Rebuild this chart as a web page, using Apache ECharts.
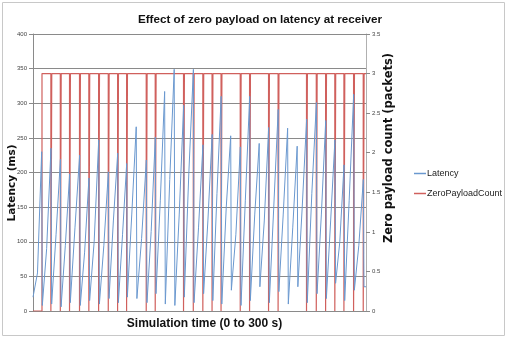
<!DOCTYPE html>
<html>
<head>
<meta charset="utf-8">
<script src="https://cdn.jsdelivr.net/npm/echarts@6/dist/echarts.min.js"></script>
<style>
  html, body { margin: 0; padding: 0; background: #fff; }
  #chart { width: 507px; height: 338px; }
</style>
</head>
<body>
<div id="chart"></div>
<script>
// times (s) where latency falls back to near zero
const dropTimes = [8.1, 16.5, 25.0, 33.3, 42.3, 50.7, 59.5, 68.2, 76.6, 84.7,
  93.3, 102.4, 110.5, 118.9, 127.5, 136.0, 144.8, 153.4, 161.7, 169.8,
  178.4, 187.1, 195.5, 204.1, 212.6, 221.2, 229.7, 238.3, 246.8, 255.6,
  264.0, 272.3, 280.5, 289.2, 297.9];
// latency just before each drop (ms)
const peaks = [230, 235, 219, 198, 225, 192, 247, 201, 228, 213,
  266, 218, 251, 317, 349, 297, 349, 240, 255, 310,
  253, 237, 310, 242, 265, 291, 264, 238, 277, 301,
  275, 247, 211, 313, 190];
// latency right after each drop (ms)
const troughs = [8, 10, 6, 12, 8, 15, 10, 18, 12, 20,
  18, 12, 25, 10, 8, 20, 12, 25, 15, 10,
  30, 8, 15, 35, 12, 28, 10, 35, 12, 25,
  18, 40, 15, 30, 35];
// small kink half way up each ramp (ms)
const mids = [55, 90, 110, 95, 120, 85, 100, 95, 130, 110,
  140, 105, 115, 160, 190, 140, 200, 120, 130, 170,
  150, 110, 160, 140, 130, 150, 140, 120, 150, 170,
  140, 130, 100, 160, 95];
const latencyStart = 20;
const latencyEnd = 35;
// zero payload events (drops of the count to 0)
const pulseTimes = [8.1, 16.5, 25.0, 33.3, 42.3, 50.7, 59.5, 68.2, 76.6, 84.7,
  102.4, 110.5, 136.0, 144.8, 153.4, 161.7, 169.8, 187.1, 195.5, 212.6,
  221.2, 246.8, 255.6, 264.0, 272.3, 280.5, 289.2, 297.9];
const countLevel = 3;
const leftTicks = { min: 0, max: 400, interval: 50 };
const rightTicks = { min: 0, max: 3.5, interval: 0.5 };

// build latency sawtooth
const latency = [[0, latencyStart]];
let prev = 0;
dropTimes.forEach((t, i) => {
  latency.push([prev + (t - prev) * 0.5, mids[i]]);
  latency.push([t - 0.3, peaks[i]]);
  latency.push([t + 0.3, troughs[i]]);
  prev = t;
});
latency.push([300, latencyEnd]);

// build zero payload count square wave
const zeroCount = [[0, 0], [pulseTimes[0], 0]];
pulseTimes.forEach((t, i) => {
  if (i > 0) {
    zeroCount.push([t - 0.4, countLevel], [t - 0.4, 0], [t + 0.4, 0], [t + 0.4, countLevel]);
  } else {
    zeroCount.push([t, countLevel]);
  }
});
zeroCount.push([300, countLevel]);

const sans = '"Liberation Sans", sans-serif';
const axisNameStyle = { fontFamily: 'DejaVu Sans', fontWeight: 'bold', fill: '#111', align: 'center', verticalAlign: 'middle' };
const chart = echarts.init(document.getElementById('chart'));
chart.setOption({
  animation: false,
  title: {
    text: 'Effect of zero payload on latency at receiver',
    left: 255, top: 9, textAlign: 'center',
    textStyle: { fontFamily: sans, fontSize: 11.7, fontWeight: 'bold', color: '#111' }
  },
  graphic: [{
    type: 'rect', shape: { x: 2.5, y: 2.5, width: 502, height: 333 },
    style: { fill: 'none', stroke: '#c8c8c8', lineWidth: 1 }, silent: true
  }, {
    // left axis title
    type: 'text', x: 12, y: 183, rotation: Math.PI / 2, silent: true,
    style: Object.assign({ text: 'Latency (ms)', fontSize: 10.5 }, axisNameStyle)
  }, {
    // right axis title
    type: 'text', x: 389, y: 148, rotation: Math.PI / 2, silent: true,
    style: Object.assign({ text: 'Zero payload count (packets)', fontSize: 11.5 }, axisNameStyle)
  }],
  legend: {
    orient: 'vertical', left: 409, top: 164, itemGap: 11,
    itemWidth: 12, itemHeight: 1.5, icon: 'rect',
    textStyle: { fontFamily: sans, fontSize: 9, color: '#222', padding: [0, 0, 0, -4] },
    data: ['Latency', 'ZeroPayloadCount']
  },
  grid: { left: 33, right: 141, top: 34, bottom: 27, outerBoundsMode: 'none' },
  xAxis: {
    type: 'value', min: 0, max: 300,
    name: 'Simulation time (0 to 300 s)', nameLocation: 'middle', nameGap: 7,
    nameTextStyle: { fontFamily: sans, fontSize: 12, fontWeight: 'bold', color: '#111', padding: [0, 0, 0, 10] },
    axisLine: { lineStyle: { color: '#8a8a8a' } },
    axisTick: { show: false }, axisLabel: { show: false }, splitLine: { show: false }
  },
  yAxis: [{
    type: 'value', min: leftTicks.min, max: leftTicks.max, interval: leftTicks.interval,
    axisLine: { show: true, lineStyle: { color: '#8a8a8a' } },
    axisTick: { show: true, length: 4, lineStyle: { color: '#8a8a8a' } },
    axisLabel: { fontFamily: sans, fontSize: 6, color: '#444', margin: 6 },
    splitLine: { lineStyle: { color: '#8a8a8a', width: 1 } }
  }, {
    type: 'value', min: rightTicks.min, max: rightTicks.max, interval: rightTicks.interval,
    axisLine: { show: true, lineStyle: { color: '#b0b0b0' } },
    axisTick: { show: true, length: 4, lineStyle: { color: '#8a8a8a' } },
    axisLabel: { fontFamily: sans, fontSize: 6, color: '#444', margin: 6 },
    splitLine: { show: false }
  }],
  series: [{
    name: 'Latency', type: 'line', yAxisIndex: 0, data: latency,
    showSymbol: false, color: '#6a98cf',
    lineStyle: { width: 1, color: '#6a98cf' }, z: 3
  }, {
    name: 'ZeroPayloadCount', type: 'line', yAxisIndex: 1, data: zeroCount,
    showSymbol: false, color: '#d0605d',
    lineStyle: { width: 1.2, color: '#d0605d' }, z: 2
  }]
});
</script>
</body>
</html>
